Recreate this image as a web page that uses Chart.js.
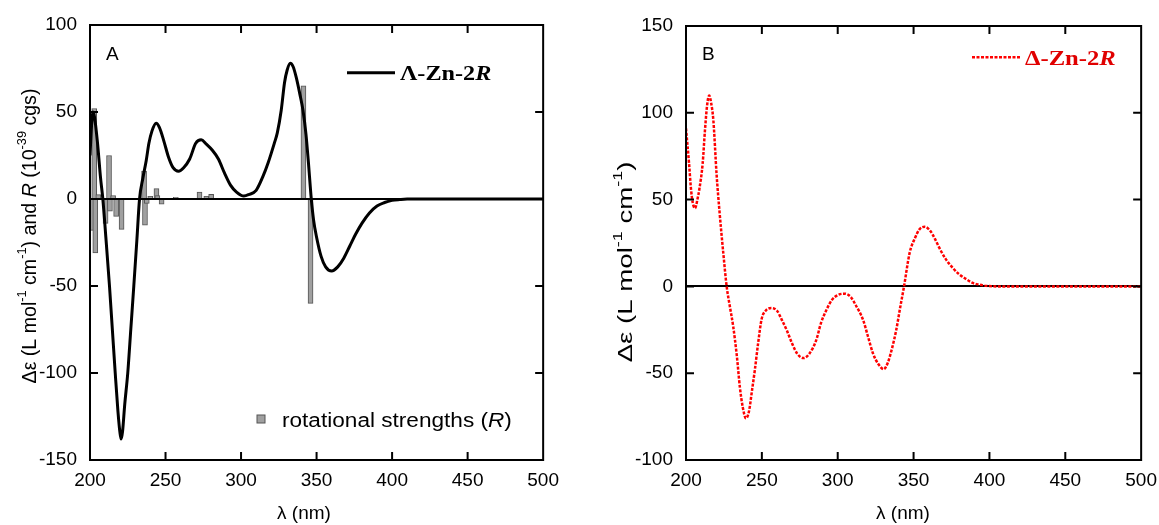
<!DOCTYPE html>
<html>
<head>
<meta charset="utf-8">
<script src="https://cdn.jsdelivr.net/npm/chart.js@4/dist/chart.umd.min.js"></script>
<style>
  body { margin: 0; background: #fff; width: 1159px; height: 525px; overflow: hidden; position: relative; }
  .box { position: absolute; top: 0; height: 525px; }
</style>
</head>
<body>
<div class="box" style="left:0;width:568px"><canvas id="chartA"></canvas></div>
<div class="box" style="left:580px;width:586px"><canvas id="chartB"></canvas></div>
<script>
// panel A: calculated ECD of Λ-Zn-2R
const wavelengthA = [200, 201, 202, 203, 205, 207, 208.5, 210.5, 212.9, 214.8, 216.7, 218.5, 219.8, 220.6, 221.5,
  223, 225, 227, 229, 231, 232.8, 235, 237.2, 239, 241, 243.8, 246, 249, 252, 255, 258.6, 262, 266, 270, 273.6,
  277, 281, 285, 289, 293, 297, 301.9, 305, 310, 314.5, 318, 322, 324, 326.6, 328.8, 330.5, 332.6, 334.5, 336.5,
  339, 341, 343, 344.5, 346.5, 348, 350, 353, 356, 360, 364, 368, 372, 376, 380, 385, 390, 395, 400, 405, 410, 450, 500];
const deltaEpsA = [25, 42, 50, 47, 32, 12, 0, -22, -50, -75, -100, -122, -134, -138, -134,
  -118, -100, -75, -50, -24, 0, 12, 22, 32, 39, 43.5, 41, 33, 24, 18, 16, 18, 23, 32, 34,
  31.5, 28, 23, 15, 8, 4, 1.7, 2.5, 5, 13, 21, 32, 38, 51, 67, 74, 78, 76, 70,
  60, 51, 37, 22, 0, -12, -22, -33, -39, -41.4, -39, -34, -27, -20, -14, -8, -4, -2, -0.8, -0.3, 0, 0, 0];

// rotational strengths (10^-39 cgs)
const barWavelength = [200.8, 202.8, 203.5, 205.5, 210.3, 212.6, 213.2, 215.3, 217.3, 220.9, 235.8, 236.4,
  237.6, 239.9, 244, 244.6, 247.4, 256.8, 272.5, 277, 280.2, 341.3, 346];
const rotStrength = [-18, 52, -31, 2.5, -14, 25, -7, 2, -10, -17.5, 16, -15,
  -2.5, 1.5, 6, 2, -3, 1, 4, 1.5, 2.7, 65, -60];

// panel B: calculated ECD of Δ-Zn-2R
const wavelengthB = [200, 202, 203.3, 204.5, 206, 207.5, 208.8, 211, 212.5, 214, 215.3, 216.5, 218, 220.2, 222,
  224.6, 226.8, 229, 231.1, 233.5, 235.5, 237.5, 239.5, 241.5, 243.5, 245.4, 247.5, 249.8, 252.5, 256.4, 260,
  263, 266.3, 270, 273.5, 277.6, 281.5, 285.9, 289, 292.6, 296, 300, 304.6, 308.5, 312, 316.7, 320, 323.2, 327,
  330.3, 333, 336, 338.6, 341, 343.7, 347.4, 351, 354, 357.3, 361, 364, 367.1, 371, 375.9, 380, 384.7, 389,
  393.4, 398, 405, 450, 500];
const deltaEpsB = [91, 71, 56, 48, 45, 50, 56, 71, 90, 105, 110, 106, 96, 64, 44,
  19, 0, -12, -23, -40, -58, -70, -76, -72, -60, -48, -33, -19, -14, -12.5, -14,
  -19, -25, -33, -39, -41.3, -38.5, -30.8, -21, -13.5, -8, -5, -4.2, -6, -11, -19.2, -29, -38.5, -45,
  -47.7, -44, -35, -25, -13, 0, 19.3, 28, 33, 34.3, 32, 27.5, 22, 16, 10.6, 7, 4.2, 2,
  1, 0.3, 0, 0, 0];

const xRange = [200, 500];
const yRangeA = [-150, 100];
const yRangeB = [-100, 150];

const SANS = '"Liberation Sans", Arial, sans-serif';
const SERIF = '"Liberation Serif", "Times New Roman", serif';

function pts(xs, ys) {
  return xs.map((x, i) => ({ x: x, y: ys[i] }));
}

// mixed-style text run; rotate draws it bottom-to-top, centre centres it on x
function drawRun(ctx, x, y, parts, o) {
  const fontOf = p => (p.italic ? 'italic ' : '') + (o.bold ? 'bold ' : '') +
    (p.sup ? Math.round(o.size * 0.65) : o.size) + 'px ' + (o.family || SANS);
  ctx.save();
  ctx.fillStyle = o.color || '#000';
  ctx.textBaseline = o.rotate ? 'middle' : 'alphabetic';
  ctx.translate(x, y);
  if (o.rotate) ctx.rotate(-Math.PI / 2);
  ctx.scale(o.stretch || 1, 1);
  let total = 0;
  parts.forEach(p => { ctx.font = fontOf(p); total += ctx.measureText(p.t).width; });
  let cx = (o.rotate || o.centre) ? -total / 2 : 0;
  parts.forEach(p => {
    ctx.font = fontOf(p);
    ctx.fillText(p.t, cx, p.sup ? -o.size * 0.4 : 0);
    cx += ctx.measureText(p.t).width;
  });
  ctx.restore();
}

// frame with inward ticks on all four sides, plus the panel's own labels
function makeFrame(deco) {
  return {
    id: 'frame',
    afterDraw(chart) {
      const { ctx, chartArea: a, scales: { x, y } } = chart;
      ctx.save();
      ctx.strokeStyle = '#000';
      ctx.lineWidth = 2;
      ctx.strokeRect(a.left, a.top, a.right - a.left, a.bottom - a.top);
      ctx.beginPath();
      x.ticks.forEach(t => {
        const px = x.getPixelForValue(t.value);
        if (px <= a.left + 1 || px >= a.right - 1) return;
        ctx.moveTo(px, a.bottom); ctx.lineTo(px, a.bottom - 8);
        ctx.moveTo(px, a.top); ctx.lineTo(px, a.top + 8);
      });
      y.ticks.forEach(t => {
        const py = y.getPixelForValue(t.value);
        if (py <= a.top + 1 || py >= a.bottom - 1) return;
        ctx.moveTo(a.left, py); ctx.lineTo(a.left + 8, py);
        ctx.moveTo(a.right, py); ctx.lineTo(a.right - 8, py);
      });
      ctx.stroke();
      ctx.restore();
      deco(ctx);
    }
  };
}

function scalesFor(yRange, yWidth) {
  return {
    x: {
      type: 'linear', min: xRange[0], max: xRange[1], offset: false,
      grid: { display: false, drawTicks: false, offset: false },
      border: { display: false },
      ticks: { stepSize: 50, padding: 9, color: '#000', font: { family: SANS, size: 19 }, maxRotation: 0 },
      afterFit(s) { s.height = 65; }
    },
    y: {
      min: yRange[0], max: yRange[1],
      grid: {
        drawTicks: false,
        color: c => (c.tick && c.tick.value === 0 ? '#000' : 'rgba(0,0,0,0)'),
        lineWidth: 2
      },
      border: { display: false },
      ticks: { stepSize: 50, padding: 13, color: '#000', font: { family: SANS, size: 19 } },
      afterFit(s) { s.width = yWidth; }
    }
  };
}

function decoA(ctx) {
  drawRun(ctx, 106, 59.5, [{ t: 'A' }], { size: 19 });
  // line legend
  ctx.save();
  ctx.strokeStyle = '#000';
  ctx.lineWidth = 3;
  ctx.beginPath(); ctx.moveTo(347, 72.7); ctx.lineTo(395, 72.7); ctx.stroke();
  // bar legend swatch
  ctx.fillStyle = '#a0a0a0';
  ctx.fillRect(257, 415, 8, 8);
  ctx.strokeStyle = '#555'; ctx.lineWidth = 1;
  ctx.strokeRect(257, 415, 8, 8);
  ctx.restore();
  drawRun(ctx, 400, 79.5, [{ t: 'Λ-Zn-2' }, { t: 'R', italic: true }],
    { size: 22, family: SERIF, bold: true, stretch: 1.1 });
  drawRun(ctx, 282, 427, [{ t: 'rotational strengths (' }, { t: 'R', italic: true }, { t: ')' }],
    { size: 20, stretch: 1.13 });
  drawRun(ctx, 304, 519, [{ t: 'λ (nm)' }], { size: 19, centre: true });
  drawRun(ctx, 30, 236, [
    { t: 'Δε (L mol' }, { t: '-1', sup: true }, { t: ' cm' }, { t: '-1', sup: true },
    { t: ') and ' }, { t: 'R', italic: true }, { t: ' (10' }, { t: '-39', sup: true }, { t: ' cgs)' }
  ], { size: 20, rotate: true, stretch: 0.98 });
}

function decoB(ctx) {
  drawRun(ctx, 122, 60, [{ t: 'B' }], { size: 19 });
  ctx.save();
  ctx.strokeStyle = '#ff0000';
  ctx.lineWidth = 2.5;
  ctx.setLineDash([3, 1.5]);
  ctx.beginPath(); ctx.moveTo(392, 57.3); ctx.lineTo(440, 57.3); ctx.stroke();
  ctx.restore();
  drawRun(ctx, 445, 65, [{ t: 'Δ-Zn-2' }, { t: 'R', italic: true }],
    { size: 22, family: SERIF, bold: true, stretch: 1.12, color: '#e00000' });
  drawRun(ctx, 323, 519, [{ t: 'λ (nm)' }], { size: 19, centre: true });
  drawRun(ctx, 46.5, 262, [
    { t: 'Δε (L mol' }, { t: '-1', sup: true }, { t: ' cm' }, { t: '-1', sup: true }, { t: ')' }
  ], { size: 20, rotate: true, stretch: 1.38 });
}

new Chart(document.getElementById('chartA'), {
  data: {
    datasets: [
      {
        type: 'line',
        label: 'Λ-Zn-2R',
        data: pts(wavelengthA, deltaEpsA),
        borderColor: '#000',
        borderWidth: 3,
        pointRadius: 0,
        cubicInterpolationMode: 'monotone',
        order: 0
      },
      {
        type: 'bar',
        label: 'rotational strengths (R)',
        data: pts(barWavelength, rotStrength),
        backgroundColor: '#a0a0a0',
        borderColor: '#555',
        borderWidth: 1,
        barThickness: 5,
        order: 1
      }
    ]
  },
  options: {
    responsive: true,
    maintainAspectRatio: false,
    animation: false,
    layout: { padding: { left: 0, top: 25, right: 17, bottom: 0 } },
    scales: scalesFor(yRangeA, 90),
    plugins: { legend: { display: false }, tooltip: { enabled: false } }
  },
  plugins: [makeFrame(decoA)]
});

new Chart(document.getElementById('chartB'), {
  data: {
    datasets: [
      {
        type: 'line',
        label: 'Δ-Zn-2R',
        data: pts(wavelengthB, deltaEpsB),
        borderColor: '#ff0000',
        borderWidth: 2.5,
        borderDash: [3, 1.5],
        pointRadius: 0,
        cubicInterpolationMode: 'monotone'
      }
    ]
  },
  options: {
    responsive: true,
    maintainAspectRatio: false,
    animation: false,
    layout: { padding: { left: 0, top: 26, right: 18, bottom: 0 } },
    scales: scalesFor(yRangeB, 106),
    plugins: { legend: { display: false }, tooltip: { enabled: false } }
  },
  plugins: [makeFrame(decoB)]
});
</script>
</body>
</html>
